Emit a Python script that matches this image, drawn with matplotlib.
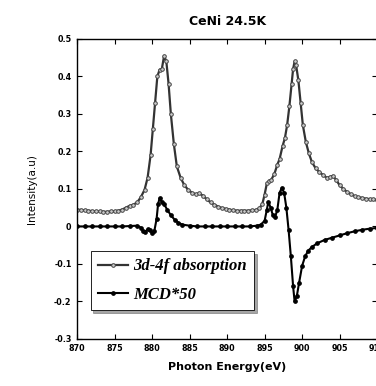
import matplotlib
matplotlib.use('Agg')
import matplotlib.pyplot as plt

# 3d-4f absorption (photon energy eV, intensity)
abs_e = [870.0, 870.5, 871.0, 871.5, 872.0, 872.5, 873.0, 873.5, 874.0, 874.5,
         875.0, 875.5, 876.0, 876.5, 877.0, 877.5, 878.0, 878.5, 879.0, 879.4,
         879.8, 880.1, 880.4, 880.7, 881.0, 881.3, 881.6, 881.9, 882.2, 882.5,
         882.9, 883.3, 883.8, 884.3, 884.8, 885.3, 885.8, 886.3, 886.8, 887.3,
         887.8, 888.3, 888.8, 889.3, 889.8, 890.3, 890.8, 891.3, 891.8, 892.3,
         892.8, 893.3, 893.8, 894.3, 894.7, 895.0, 895.3, 895.6, 895.9, 896.3,
         896.7, 897.0, 897.4, 897.7, 898.0, 898.3, 898.6, 898.8, 899.0, 899.2,
         899.5, 899.8, 900.1, 900.5, 900.9, 901.3, 901.8, 902.3, 902.8, 903.3,
         903.7, 904.1, 904.5, 905.0, 905.5, 906.0, 906.5, 907.0, 907.5, 908.0,
         908.5, 909.0, 909.5, 910.0]
abs_i = [0.045, 0.044, 0.043, 0.042, 0.041, 0.040, 0.040, 0.039, 0.039, 0.040,
         0.040, 0.042, 0.045, 0.050, 0.055, 0.058, 0.064, 0.078, 0.098, 0.130,
         0.190, 0.260, 0.330, 0.400, 0.418, 0.420, 0.455, 0.440, 0.380, 0.300,
         0.220, 0.160, 0.130, 0.110, 0.098, 0.090, 0.086, 0.088, 0.082, 0.072,
         0.064, 0.058, 0.053, 0.049, 0.047, 0.045, 0.043, 0.042, 0.042, 0.042,
         0.042, 0.043, 0.044, 0.048, 0.060, 0.085, 0.115, 0.122, 0.125, 0.140,
         0.165, 0.180, 0.215, 0.235, 0.270, 0.320, 0.380, 0.420, 0.440, 0.430,
         0.390, 0.330, 0.270, 0.225, 0.195, 0.172, 0.155, 0.145, 0.137, 0.130,
         0.132, 0.135, 0.125, 0.110, 0.100, 0.092, 0.086, 0.081, 0.078, 0.076,
         0.074, 0.073, 0.072, 0.071]

# MCD signal x50
mcd_e = [870.0, 871.0, 872.0, 873.0, 874.0, 875.0, 876.0, 877.0, 878.0, 878.5,
         878.8, 879.1, 879.4, 879.7, 880.0, 880.3, 880.6, 880.8, 881.0, 881.3,
         881.6, 882.0, 882.5, 883.0, 883.5, 884.0, 885.0, 886.0, 887.0, 888.0,
         889.0, 890.0, 891.0, 892.0, 893.0, 894.0, 894.5, 895.0, 895.3, 895.5,
         895.8, 896.1, 896.4, 896.7, 897.0, 897.3, 897.6, 897.9, 898.2, 898.5,
         898.8, 899.0, 899.3, 899.6, 900.0, 900.4, 900.8, 901.3, 902.0, 903.0,
         904.0, 905.0, 906.0, 907.0, 908.0, 909.0, 910.0]
mcd_i = [0.000, 0.000, 0.000, 0.000, 0.000, 0.000, 0.000, 0.001, 0.002, -0.003,
         -0.012, -0.014, -0.008, -0.010, -0.018, -0.012, 0.020, 0.060, 0.075, 0.065,
         0.060, 0.045, 0.030, 0.018, 0.010, 0.005, 0.002, 0.000, 0.000, 0.000,
         0.000, 0.000, 0.000, 0.000, 0.000, 0.002, 0.005, 0.015, 0.045, 0.066,
         0.050, 0.030, 0.025, 0.045, 0.090, 0.103, 0.090, 0.050, -0.010, -0.080,
         -0.160, -0.200, -0.185, -0.150, -0.105, -0.080, -0.065, -0.055, -0.045, -0.036,
         -0.030, -0.024, -0.018, -0.013, -0.009, -0.006, -0.004]

xticks = [870, 875, 880, 885, 890, 895, 900, 905, 910]
yticks = [-0.3, -0.2, -0.1, 0, 0.1, 0.2, 0.3, 0.4, 0.5]
ytick_labels = ['-0.3', '-0.2', '-0.1', '0', '0.1', '0.2', '0.3', '0.4', '0.5']

fig = plt.figure(figsize=(3.76, 3.86), dpi=100)
ax = fig.add_axes([0.205, 0.122, 0.798, 0.777])

ax.plot(abs_e, abs_i, color='#333333', lw=1.6, marker='o', ms=2.6,
        mfc='#cccccc', mec='#444444', mew=0.7, label='3d-4f absorption')
ax.plot(mcd_e, mcd_i, color='black', lw=1.5, marker='o', ms=2.4,
        mfc='black', mec='black', label='MCD*50')

ax.set_xlim(870, 910)
ax.set_ylim(-0.3, 0.5)
ax.set_xticks(xticks)
ax.set_yticks(yticks)
ax.set_yticklabels(ytick_labels)
ax.tick_params(direction='in', top=True, right=True, length=3.5, width=0.8,
               labelsize=5.8, pad=4)
for lab in ax.get_xticklabels() + ax.get_yticklabels():
    lab.set_fontweight('bold')
for sp in ax.spines.values():
    sp.set_linewidth(1.0)

ax.set_title('CeNi 24.5K', fontsize=9, fontweight='bold', pad=10)
ax.set_xlabel('Photon Energy(eV)', fontsize=8, fontweight='bold', labelpad=6)
ax.set_ylabel('Intensity(a.u)', fontsize=7.5, labelpad=12)

leg = ax.legend(loc='lower left', bbox_to_anchor=(0.045, 0.095), frameon=True,
                fancybox=False, shadow=True, handlelength=1.8,
                handletextpad=0.3, borderpad=0.45, borderaxespad=0,
                labelspacing=0.75,
                prop={'family': 'Liberation Serif', 'style': 'italic',
                      'weight': 'bold', 'size': 12})
leg.get_frame().set_edgecolor('black')
leg.get_frame().set_linewidth(0.6)

fig.savefig('out.png', dpi=100)
